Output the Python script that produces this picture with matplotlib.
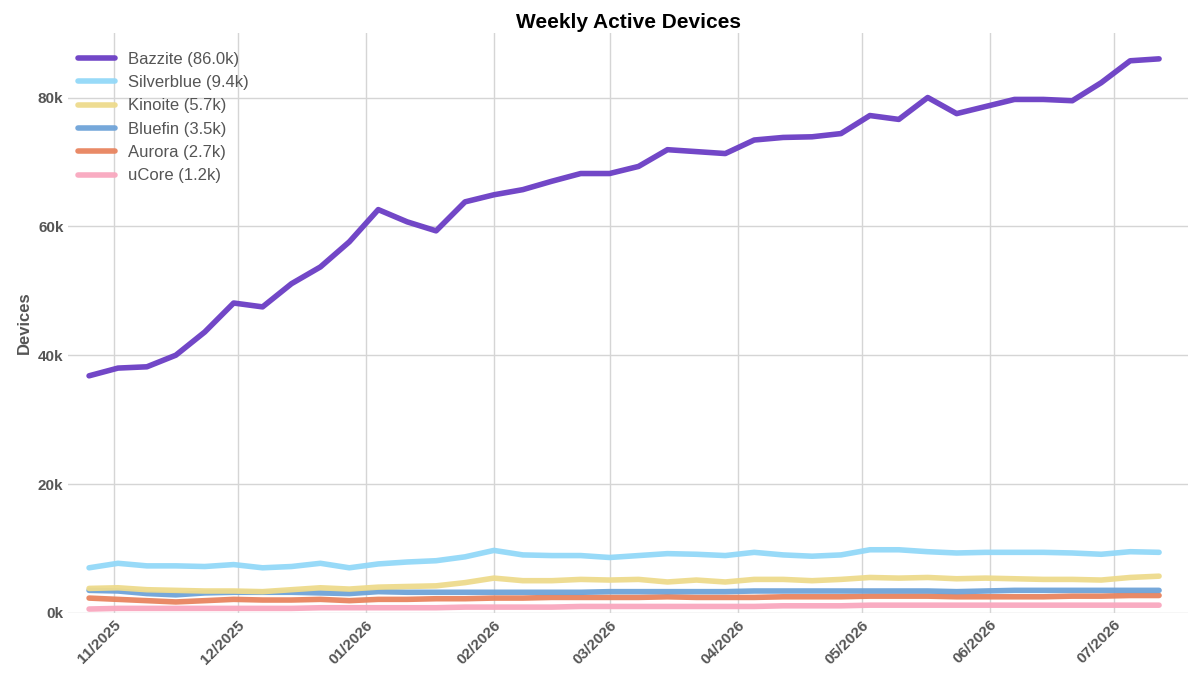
import matplotlib
matplotlib.use("Agg")
import matplotlib.pyplot as plt
import matplotlib.dates as mdates
import matplotlib.ticker as mticker
import pandas as pd

dates = pd.date_range("2025-10-26", periods=38, freq="7D")
bazzite = [36.8,38.0,38.2,40.0,43.6,48.1,47.5,51.1,53.7,57.6,62.6,60.7,59.3,63.8,64.9,65.7,67.0,68.2,68.2,69.3,71.9,71.6,71.3,73.4,73.8,73.9,74.4,77.2,76.6,80.0,77.5,78.6,79.7,79.7,79.5,82.3,85.7,86.0]
silverblue = [7.0,7.7,7.3,7.3,7.2,7.5,7.0,7.2,7.7,7.0,7.6,7.9,8.1,8.7,9.7,9.0,8.9,8.9,8.6,8.9,9.2,9.1,8.9,9.4,9.0,8.8,9.0,9.8,9.8,9.5,9.3,9.4,9.4,9.4,9.3,9.1,9.5,9.4]
kinoite = [3.8,3.9,3.6,3.5,3.4,3.4,3.3,3.6,3.9,3.7,4.0,4.1,4.2,4.7,5.4,5.0,5.0,5.2,5.1,5.2,4.8,5.1,4.8,5.2,5.2,5.0,5.2,5.5,5.4,5.5,5.3,5.4,5.3,5.2,5.2,5.1,5.5,5.7]
bluefin = [3.5,3.4,3.0,2.8,3.1,3.2,3.2,3.2,3.1,3.0,3.3,3.2,3.2,3.2,3.2,3.2,3.2,3.2,3.3,3.3,3.3,3.3,3.3,3.4,3.4,3.4,3.4,3.4,3.4,3.4,3.3,3.4,3.5,3.5,3.5,3.5,3.5,3.5]
aurora = [2.3,2.1,1.9,1.7,1.9,2.1,2.0,2.0,2.1,1.9,2.1,2.1,2.2,2.2,2.3,2.3,2.4,2.4,2.4,2.4,2.5,2.4,2.4,2.4,2.5,2.5,2.5,2.6,2.6,2.6,2.5,2.5,2.5,2.5,2.6,2.6,2.7,2.7]
ucore = [0.6,0.7,0.7,0.7,0.7,0.7,0.7,0.7,0.8,0.8,0.8,0.8,0.8,0.9,0.9,0.9,0.9,1.0,1.0,1.0,1.0,1.0,1.0,1.0,1.1,1.1,1.1,1.2,1.2,1.2,1.2,1.2,1.2,1.2,1.2,1.2,1.2,1.2]

names = ["Bazzite","Silverblue","Kinoite","Bluefin","Aurora","uCore"]
series = [bazzite,silverblue,kinoite,bluefin,aurora,ucore]
colors = ["#6a3dc4","#93d8f8","#eedb8c","#6fa3d8","#e8845f","#f9a8bf"]

plt.rcParams['font.family'] = ['Liberation Sans','DejaVu Sans']
fig, ax = plt.subplots(figsize=(12,6.75), dpi=100)
handles = {}
for n, s, c in list(zip(names, series, colors))[::-1]:
    h, = ax.plot(dates, [v*1000 for v in s], color=c, lw=4, label=f"{n} ({s[-1]:.1f}k)",
                 solid_capstyle='round', alpha=0.95)
    handles[n] = h
ax.legend([handles[n] for n in names], [handles[n].get_label() for n in names],
          loc="upper left", frameon=False, fontsize=12, labelcolor="#555555", handlelength=2.2,
          borderaxespad=0.2, bbox_to_anchor=(0, 0.985))
ax.set_title("Weekly Active Devices", fontsize=15, fontweight="bold", pad=4)
ax.set_ylabel("Devices", fontsize=12, fontweight="bold", color="#555555")
ax.set_ylim(0, 90000)
ax.set_yticks([0,20000,40000,60000,80000])
ax.yaxis.set_major_formatter(mticker.FuncFormatter(lambda v,p: f"{int(v/1000)}k"))
ax.xaxis.set_major_locator(mdates.MonthLocator())
ax.xaxis.set_major_formatter(mdates.DateFormatter("%m/%Y"))
ax.set_xlim(pd.Timestamp("2025-10-21"), pd.Timestamp("2026-07-19"))
for lab in ax.get_xticklabels():
    lab.set_rotation(45); lab.set_ha("right"); lab.set_rotation_mode("anchor")
ax.tick_params(labelsize=11, colors="#555555", length=0)
for lab in ax.get_xticklabels()+ax.get_yticklabels():
    lab.set_fontweight("bold")
ax.grid(True, color="#d5d5d5", lw=1)
for sp in ax.spines.values():
    sp.set_visible(False)
fig.subplots_adjust(left=0.057, right=0.99, top=0.951, bottom=0.092)
fig.savefig("out.png")
